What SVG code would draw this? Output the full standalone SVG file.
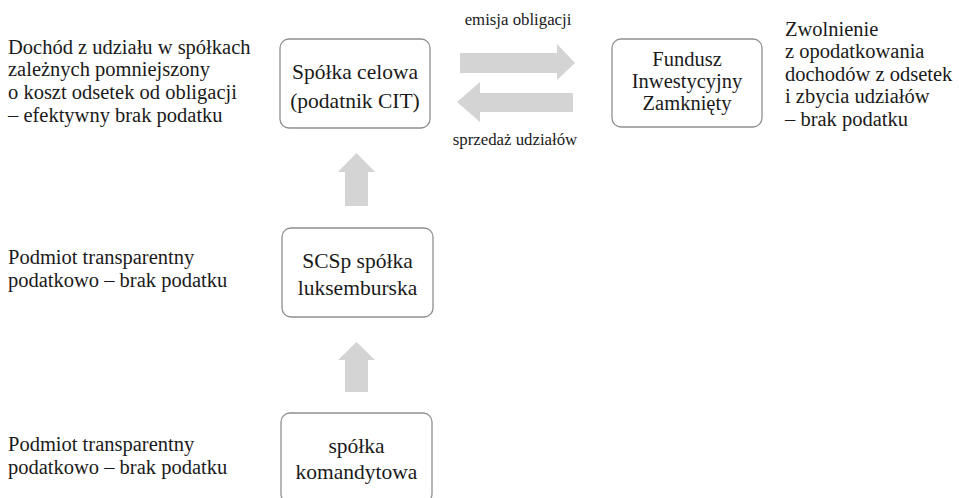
<svg xmlns="http://www.w3.org/2000/svg" width="959" height="498" viewBox="0 0 959 498">
<style>
.box{fill:#fff;stroke:#8f8f8f;stroke-width:1.3}
.arr{fill:#d4d4d4}
.t{font-family:'Liberation Serif','DejaVu Serif',serif;fill:#1a1a1a}
.bt{font-size:21.5px;text-anchor:middle}
.ft{font-size:20.5px;text-anchor:middle}
.side{font-size:20.5px}
.lbl{font-size:16.8px;text-anchor:middle}
</style>
<g id="connectors">
<polygon class="arr" points="460,53 557,53 557,44 575,63 557,80 557,73 460,73"/>
<polygon class="arr" points="573,93 480,93 480,82 457,102 480,122 480,112 573,112"/>
<polygon class="arr" points="345,206 345,172 338,172 356.5,153 375,172 368,172 368,206"/>
<polygon class="arr" points="345,392 345,360 338,360 356.5,342 375,360 368,360 368,392"/>
<text class="t lbl" x="518" y="25">emisja obligacji</text>
<text class="t lbl" x="515" y="145">sprzedaż udziałów</text>
</g>
<g id="spolka-celowa">
<rect class="box" x="280" y="39" width="150" height="89" rx="9"/>
<text class="t bt" x="355" y="79">Spółka celowa</text>
<text class="t bt" x="355" y="108">(podatnik CIT)</text>
</g>
<g id="fundusz">
<rect class="box" x="612" y="39" width="150" height="88" rx="9"/>
<text class="t ft" x="687" y="66">Fundusz</text>
<text class="t ft" x="687" y="88">Inwestycyjny</text>
<text class="t ft" x="687" y="110">Zamknięty</text>
</g>
<g id="scsp">
<rect class="box" x="282" y="228" width="151" height="89" rx="9"/>
<text class="t bt" x="357.5" y="268">SCSp spółka</text>
<text class="t bt" x="357.5" y="295">luksemburska</text>
</g>
<g id="komandytowa">
<rect class="box" x="281" y="413" width="151" height="90" rx="9"/>
<text class="t bt" x="356.5" y="453">spółka</text>
<text class="t bt" x="356.5" y="479">komandytowa</text>
</g>
<g id="note-celowa">
<text class="t side" x="8" y="54">Dochód z udziału w spółkach</text>
<text class="t side" x="8" y="76">zależnych pomniejszony</text>
<text class="t side" x="8" y="99">o koszt odsetek od obligacji</text>
<text class="t side" x="8" y="122">– efektywny brak podatku</text>
</g>
<g id="note-fiz">
<text class="t side" x="785" y="36">Zwolnienie</text>
<text class="t side" x="785" y="58">z opodatkowania</text>
<text class="t side" x="785" y="81">dochodów z odsetek</text>
<text class="t side" x="785" y="103">i zbycia udziałów</text>
<text class="t side" x="785" y="126">– brak podatku</text>
</g>
<g id="note-scsp">
<text class="t side" x="8" y="264">Podmiot transparentny</text>
<text class="t side" x="8" y="287">podatkowo – brak podatku</text>
</g>
<g id="note-kom">
<text class="t side" x="8" y="451">Podmiot transparentny</text>
<text class="t side" x="8" y="474">podatkowo – brak podatku</text>
</g>
</svg>
